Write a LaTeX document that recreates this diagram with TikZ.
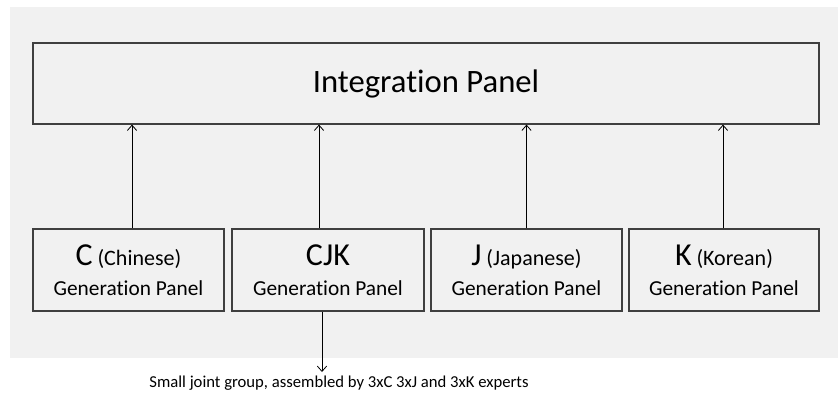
\documentclass[tikz,border=0pt]{standalone}
\usepackage{fontspec}
\setmainfont{Carlito}[Ligatures=NoCommon]
\usetikzlibrary{arrows.meta}
\definecolor{bggray}{HTML}{F1F1F1}
\definecolor{linegray}{HTML}{3F3F3F}
\newcommand{\bigltr}[1]{{\fontsize{24pt}{26pt}\selectfont #1}}
\newcommand{\lang}[1]{{\fontsize{16.5pt}{18pt}\selectfont #1}}
\tikzset{
  panel/.style={draw=linegray, line width=0.9pt, fill=bggray, inner sep=0pt, align=center},
  genbox/.style={panel, minimum height=82*0.75pt, font=\fontsize{16pt}{22.5pt}\selectfont},
  conn/.style={draw=black, line width=0.6pt, -{Straight Barb[length=4pt,width=7pt]}},
}
\begin{document}
\begin{tikzpicture}[x=0.75pt,y=-0.75pt]
\useasboundingbox (0,0) rectangle (838,394);
\fill[white] (0,0) rectangle (838,394);
\fill[bggray] (10,7) rectangle (838,358);
\node[panel, minimum width=786*0.75pt, minimum height=81*0.75pt, font=\fontsize{24.5pt}{28pt}\selectfont] (integ) at (426,83.5) {Integration Panel};
\node[genbox, minimum width=191*0.75pt] (c) at (128.5,270) {\bigltr{C} \lang{(Chinese)}\\Generation Panel};
\node[genbox, minimum width=192*0.75pt] (cjk) at (328,270) {\bigltr{CJK}\\Generation Panel};
\node[genbox, minimum width=191*0.75pt] (j) at (526.5,270) {\bigltr{J} \lang{(Japanese)}\\Generation Panel};
\node[genbox, minimum width=190*0.75pt] (k) at (724,270) {\bigltr{K} \lang{(Korean)}\\Generation Panel};
\node[inner sep=0pt, anchor=center, font=\fontsize{12.5pt}{14pt}\selectfont] (note) at (339,383) {Small joint group, assembled by 3xC 3xJ and 3xK experts};
\coordinate (notetop) at (322,372);
\draw[conn] ([xshift=3.5*0.75pt]c.north) -- ([xshift=3.5*0.75pt]c.north |- integ.south);
\draw[conn] ([xshift=-9*0.75pt]cjk.north) -- ([xshift=-9*0.75pt]cjk.north |- integ.south);
\draw[conn] (j.north) -- (j.north |- integ.south);
\draw[conn] ([xshift=-1*0.75pt]k.north) -- ([xshift=-1*0.75pt]k.north |- integ.south);
\draw[conn] ([xshift=-6*0.75pt]cjk.south) -- (notetop);
\end{tikzpicture}
\end{document}
